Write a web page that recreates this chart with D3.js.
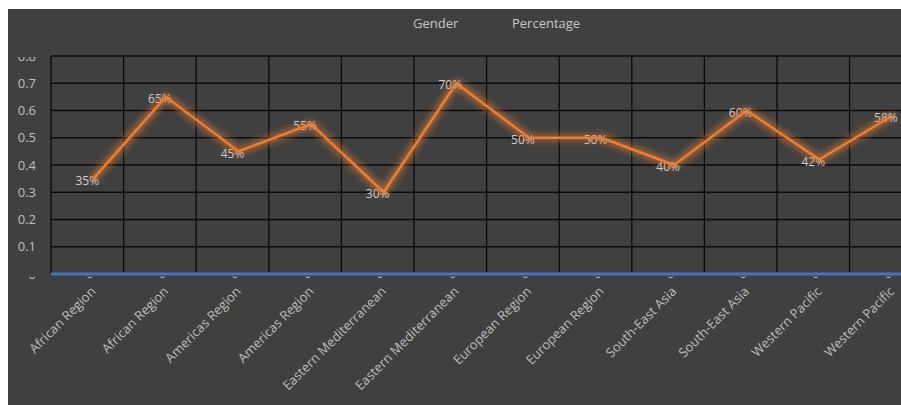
<!DOCTYPE html>
<html>
<head>
<meta charset="utf-8">
<script src="https://cdn.jsdelivr.net/npm/d3@7"></script>
<style>
  html, body { margin: 0; padding: 0; background: #fff; }
  svg { display: block; font-family: "Open Sans", "DejaVu Sans", sans-serif; }
</style>
</head>
<body>
<svg id="chart" width="901" height="405"></svg>
<script>
// chart data
var regions = ["African Region", "African Region", "Americas Region", "Americas Region",
  "Eastern Mediterranean", "Eastern Mediterranean", "European Region", "European Region",
  "South-East Asia", "South-East Asia", "Western Pacific", "Western Pacific"];
var genderCodes = ["0", "0", "0", "0", "0", "0", "0", "0", "0", "0", "0", "0"];
var genderValues = [0, 0, 0, 0, 0, 0, 0, 0, 0, 0, 0, 0];
var percentages = [0.35, 0.65, 0.45, 0.55, 0.30, 0.70, 0.50, 0.50, 0.40, 0.60, 0.42, 0.58];
var yTicks = [0, 0.1, 0.2, 0.3, 0.4, 0.5, 0.6, 0.7, 0.8];
var titleParts = ["Gender", "Percentage"];

var svg = d3.select("#chart");
var plotLeft = 51, plotTop = 56, plotBottom = 274, step = 72.6;

var x = d3.scaleBand().domain(d3.range(regions.length))
  .range([plotLeft, plotLeft + step * regions.length]);
var y = d3.scaleLinear().domain([0, 0.8]).range([plotBottom, plotTop]);
var cx = function (i) { return x(i) + x.bandwidth() / 2; };

var defs = svg.append("defs");
function glow(id, color) {
  var f = defs.append("filter").attr("id", id)
    .attr("x", "-10%").attr("y", "-50%").attr("width", "120%").attr("height", "200%");
  f.append("feMorphology").attr("in", "SourceAlpha").attr("operator", "dilate").attr("radius", 2).attr("result", "d");
  f.append("feGaussianBlur").attr("in", "d").attr("stdDeviation", 3).attr("result", "b");
  f.append("feFlood").attr("flood-color", color).attr("flood-opacity", 0.55);
  f.append("feComposite").attr("in2", "b").attr("operator", "in").attr("result", "g");
  var m = f.append("feMerge");
  m.append("feMergeNode").attr("in", "g");
  m.append("feMergeNode").attr("in", "SourceGraphic");
}
glow("glowOrange", "#ED7D31");
glow("glowBlue", "#4472C4");

defs.append("clipPath").attr("id", "plotClip").append("rect")
  .attr("x", plotLeft).attr("y", plotTop - 2).attr("width", 901 - plotLeft).attr("height", plotBottom - plotTop + 2);
defs.append("clipPath").attr("id", "labTop").append("rect")
  .attr("x", 0).attr("y", 57).attr("width", 60).attr("height", 200);
defs.append("clipPath").attr("id", "labBottom").append("rect")
  .attr("x", 0).attr("y", 276.5).attr("width", 901).attr("height", 20);

// background
svg.append("rect").attr("x", 8).attr("y", 9).attr("width", 893).attr("height", 396).attr("fill", "#404040");

// title
svg.selectAll(".title").data(titleParts).enter().append("text")
  .attr("class", "title")
  .attr("x", function (d, i) { return i === 0 ? 413 : 512; })
  .attr("y", 23).attr("dy", "0.35em")
  .attr("fill", "#c8c8c8").attr("font-size", 13)
  .text(function (d) { return d; });

// grid
var grid = svg.append("g").attr("stroke", "#0a0a0a").attr("stroke-width", 1.3);
grid.selectAll(".h").data(yTicks).enter().append("line")
  .attr("x1", plotLeft).attr("x2", 901)
  .attr("y1", function (d) { return y(d); }).attr("y2", function (d) { return y(d); });
grid.selectAll(".v").data(d3.range(regions.length)).enter().append("line")
  .attr("x1", function (i) { return x(i); }).attr("x2", function (i) { return x(i); })
  .attr("y1", plotTop).attr("y2", plotBottom);

// y labels
var yl = svg.append("g");
yl.selectAll("text").data(yTicks).enter().append("text")
  .attr("clip-path", function (d) { return d === 0 ? "url(#labBottom)" : "url(#labTop)"; })
  .attr("x", 36).attr("y", function (d) { return y(d); }).attr("dy", "0.36em")
  .attr("text-anchor", "end").attr("fill", "#bfbfbf").attr("font-size", 13)
  .text(function (d) { return String(d); });

// x labels
var xl = svg.append("g");
xl.selectAll(".code").data(genderCodes).enter().append("text")
  .attr("clip-path", "url(#labBottom)")
  .attr("x", function (d, i) { return cx(i) + 2.5; }).attr("y", plotBottom).attr("dy", "0.36em")
  .attr("text-anchor", "middle").attr("fill", "#bfbfbf").attr("font-size", 12)
  .text(function (d) { return d; });
xl.selectAll(".reg").data(regions).enter().append("text")
  .attr("transform", function (d, i) { return "translate(" + (cx(i) + 6) + ",289) rotate(-45)"; })
  .attr("dy", "0.35em")
  .attr("text-anchor", "end").attr("fill", "#bfbfbf").attr("font-size", 13)
  .text(function (d) { return d; });

// data labels (under the line)
svg.append("g").selectAll("text").data(percentages).enter().append("text")
  .attr("x", function (d, i) { return cx(i); })
  .attr("y", function (d) { return y(d) + 2; }).attr("dy", "0.35em")
  .attr("text-anchor", "middle").attr("fill", "#d0d0d0").attr("font-size", 12)
  .text(function (d) { return Math.round(d * 100) + "%"; });

// series
var line = d3.line().x(function (d, i) { return cx(i) + 6; }).y(function (d) { return y(d); });
var plot = svg.append("g").attr("clip-path", "url(#plotClip)");
plot.append("path").datum(percentages).attr("d", line)
  .attr("fill", "none").attr("stroke", "#ED7D31").attr("stroke-width", 2.5)
  .attr("stroke-linejoin", "round").attr("filter", "url(#glowOrange)");
plot.append("path").datum(genderValues).attr("d", line)
  .attr("fill", "none").attr("stroke", "#4472C4").attr("stroke-width", 3)
  .attr("filter", "url(#glowBlue)");

// axis line
svg.append("line").attr("x1", plotLeft).attr("x2", 901).attr("y1", plotBottom).attr("y2", plotBottom)
  .attr("stroke", "#4472C4").attr("stroke-width", 3);
</script>
</body>
</html>
